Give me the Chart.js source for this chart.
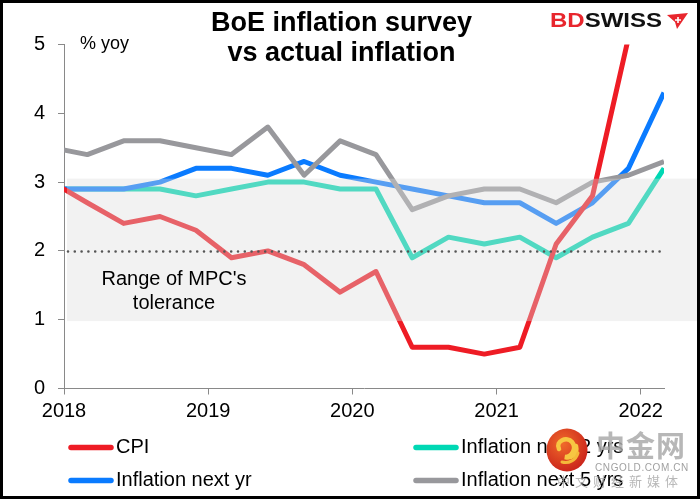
<!DOCTYPE html>
<html>
<head>
<meta charset="utf-8">
<script src="https://cdn.jsdelivr.net/npm/chart.js@4/dist/chart.umd.min.js"></script>
<style>
html, body { margin: 0; padding: 0; background: #fff; }
#wrap { position: relative; width: 700px; height: 499px; font-family: "Liberation Sans", Arial, sans-serif; }
#frame { position: absolute; left: 0; top: 0; width: 700px; height: 499px; box-sizing: border-box; border: 3px solid #000; pointer-events: none; }
#title { position: absolute; left: 0; top: 7px; width: 683px; text-align: center; font-weight: bold; font-size: 27px; line-height: 30px; color: #000; }
#unit { position: absolute; left: 80px; top: 33px; font-size: 18px; line-height: 20px; color: #000; }
#logo { position: absolute; left: 550px; top: 10px; font-weight: bold; font-size: 20px; line-height: 20px; transform: scaleX(1.2); transform-origin: left top; white-space: nowrap; }
#logo .bd { color: #e8262d; }
#logo .sw { color: #111; }
#logoIcon { position: absolute; left: 665px; top: 12px; }
#wm { position: absolute; left: 544px; top: 426px; width: 150px; height: 66px; pointer-events: none; }
#wm .cn { position: absolute; left: 52px; top: 2px; font-family: "Noto Sans CJK SC", sans-serif; font-weight: bold; font-size: 29px; line-height: 32px; color: rgba(170,170,170,0.85); letter-spacing: 1px; }
#wm .dom { position: absolute; left: 51px; top: 36px; font-size: 10px; line-height: 12px; color: rgba(150,150,150,0.9); letter-spacing: 0.6px; }
#wm .sub { position: absolute; left: 13px; top: 46px; font-family: "Noto Sans CJK SC", sans-serif; font-size: 13px; line-height: 18px; color: rgba(160,160,160,0.75); letter-spacing: 5px; white-space: nowrap; }
</style>
</head>
<body>
<div id="wrap">
  <canvas id="chart" width="700" height="499"></canvas>
  <div id="title">BoE inflation survey<br>vs actual inflation</div>
  <div id="unit">% yoy</div>
  <div id="logo"><span class="bd">BD</span><span class="sw">SWISS</span></div>
  <svg id="logoIcon" width="24" height="18" viewBox="0 0 24 18">
    <polygon points="2,3 23,1 12,17 10,10" fill="#e8262d"/>
    <path d="M13 5 v6 M10 8 h6" stroke="#fff" stroke-width="1.6"/>
  </svg>
  <div id="wm">
    <svg width="44" height="46" viewBox="0 0 44 46" style="position:absolute;left:1px;top:1px">
      <defs>
        <radialGradient id="g1" cx="40%" cy="35%" r="70%">
          <stop offset="0%" stop-color="#f06a2a"/>
          <stop offset="100%" stop-color="#c9221b"/>
        </radialGradient>
      </defs>
      <ellipse cx="22" cy="23" rx="20.5" ry="21.5" fill="url(#g1)"/>
      <path d="M14 22 C10 14, 22 9, 27 15 C32 21, 27 30, 20 30 C26 32, 33 27, 31 19" fill="none" stroke="#f7c642" stroke-width="4.5" stroke-linecap="round"/>
      <path d="M17 35 C24 37, 31 33, 33 26" fill="none" stroke="#f5b93a" stroke-width="3" stroke-linecap="round"/>
    </svg>
    <div class="cn">中金网</div>
    <div class="dom">CNGOLD.COM.CN</div>
    <div class="sub">中文财经新媒体</div>
  </div>
  <div id="frame"></div>
</div>
<script>
// survey dates (quarterly) and values, % yoy
const dates = ['2017-12', '2018-03', '2018-06', '2018-09', '2018-12', '2019-03', '2019-06', '2019-09', '2019-12',
               '2020-03', '2020-06', '2020-09', '2020-12', '2021-03', '2021-06', '2021-09', '2021-12', '2022-03'];
const cpi       = [3.0, 2.7, 2.4, 2.5, 2.3, 1.9, 2.0, 1.8, 1.4, 1.7, 0.6, 0.6, 0.5, 0.6, 2.1, 2.8, 5.1, 6.2];
const nextYr    = [2.9, 2.9, 2.9, 3.0, 3.2, 3.2, 3.1, 3.3, 3.1, 3.0, 2.9, 2.8, 2.7, 2.7, 2.4, 2.7, 3.2, 4.3];
const next2Yrs  = [2.9, 2.9, 2.9, 2.9, 2.8, 2.9, 3.0, 3.0, 2.9, 2.9, 1.9, 2.2, 2.1, 2.2, 1.9, 2.2, 2.4, 3.2];
const next5Yrs  = [3.5, 3.4, 3.6, 3.6, 3.5, 3.4, 3.8, 3.1, 3.6, 3.4, 2.6, 2.8, 2.9, 2.9, 2.7, 3.0, 3.1, 3.3];
const xTicks = [2018, 2019, 2020, 2021, 2022];
const yTicks = [0, 1, 2, 3, 4, 5];
const target = 2;
const tolerance = [0.98, 3.05];

function toYear(s) {
  const [y, m] = s.split('-').map(Number);
  const start = Date.UTC(y, 0, 1), end = Date.UTC(y + 1, 0, 1);
  return y + (Date.UTC(y, m - 1, 1) - start) / (end - start);
}
const xs = dates.map(toYear);
const pts = arr => arr.map((v, i) => ({ x: xs[i], y: v }));

const font = '"Liberation Sans", Arial, sans-serif';

// shaded tolerance band drawn over the lines (lightens them), plus target line and label
const bandPlugin = {
  id: 'band',
  afterDatasetsDraw(chart) {
    const ctx = chart.ctx, a = chart.chartArea, y = chart.scales.y;
    const top = y.getPixelForValue(tolerance[1]), bot = y.getPixelForValue(tolerance[0]);
    ctx.save();
    ctx.fillStyle = 'rgba(220,220,220,0.37)';
    ctx.fillRect(a.left + 3, top, chart.width - 3 - (a.left + 3), bot - top);
    const ty = Math.round(y.getPixelForValue(target)) + 0.5;
    ctx.strokeStyle = '#555';
    ctx.lineWidth = 2.6;
    ctx.lineCap = 'round';
    ctx.setLineDash([0, 6.8]);
    ctx.beginPath();
    ctx.moveTo(a.left + 4, ty);
    ctx.lineTo(a.right, ty);
    ctx.stroke();
    ctx.setLineDash([]);
    ctx.fillStyle = '#000';
    ctx.font = '20px ' + font;
    ctx.textAlign = 'center';
    ctx.textBaseline = 'middle';
    ctx.fillText("Range of MPC's", a.left + 110, y.getPixelForValue(1.58));
    ctx.fillText('tolerance', a.left + 110, y.getPixelForValue(1.24));
    ctx.restore();
  }
};

// two-column legend at the bottom
const legendPlugin = {
  id: 'legend2',
  afterDraw(chart) {
    const ctx = chart.ctx;
    const colX = [68, 413], rowY = [447.5, 480.5];
    ctx.save();
    chart.data.datasets.forEach((ds, i) => {
      const x0 = colX[Math.floor(i / 2)], y0 = rowY[i % 2];
      ctx.strokeStyle = ds.borderColor;
      ctx.lineWidth = 5.5;
      ctx.lineCap = 'round';
      ctx.beginPath();
      ctx.moveTo(x0 + 3, y0);
      ctx.lineTo(x0 + 43, y0);
      ctx.stroke();
      ctx.fillStyle = '#000';
      ctx.font = '20px ' + font;
      ctx.textBaseline = 'middle';
      ctx.textAlign = 'left';
      ctx.fillText(ds.label, x0 + 48, y0);
    });
    ctx.restore();
  }
};

const line = (label, data, color, order) => ({
  label, data: pts(data), borderColor: color, backgroundColor: color,
  borderWidth: 5, pointRadius: 0, tension: 0, borderJoinStyle: 'round', clip: 0, order
});

new Chart(document.getElementById('chart'), {
  type: 'line',
  data: {
    datasets: [
      line('CPI', cpi, '#ee1c25', 0),
      line('Inflation next yr', nextYr, '#0a7bff', 2),
      line('Inflation next 2 yrs', next2Yrs, '#00d8b4', 3),
      line('Inflation next 5 yrs', next5Yrs, '#98989c', 1)
    ]
  },
  options: {
    responsive: false,
    animation: false,
    layout: { padding: { top: 44.5, right: 36, left: 0, bottom: 0 } },
    plugins: { legend: { display: false }, title: { display: false }, tooltip: { enabled: false } },
    scales: {
      x: {
        type: 'linear',
        min: 2018,
        max: xs[xs.length - 1],
        afterBuildTicks: s => { s.ticks = xTicks.map(v => ({ value: v })); },
        afterFit: s => { s.height = 110.5; },
        grid: { drawOnChartArea: false, drawTicks: true, tickLength: 6, color: '#898989' },
        border: { display: true, color: '#898989', width: 1 },
        ticks: { color: '#000', font: { family: font, size: 20 }, padding: 5, maxRotation: 0, callback: v => String(v) }
      },
      y: {
        min: 0,
        max: 5,
        afterBuildTicks: s => { s.ticks = yTicks.map(v => ({ value: v })); },
        afterFit: s => { s.width = 64; },
        grid: { drawOnChartArea: false, drawTicks: true, tickLength: 6, color: '#898989' },
        border: { display: true, color: '#898989', width: 1 },
        ticks: { color: '#000', font: { family: font, size: 20 }, padding: 13 }
      }
    }
  },
  plugins: [bandPlugin, legendPlugin]
});
</script>
</body>
</html>
